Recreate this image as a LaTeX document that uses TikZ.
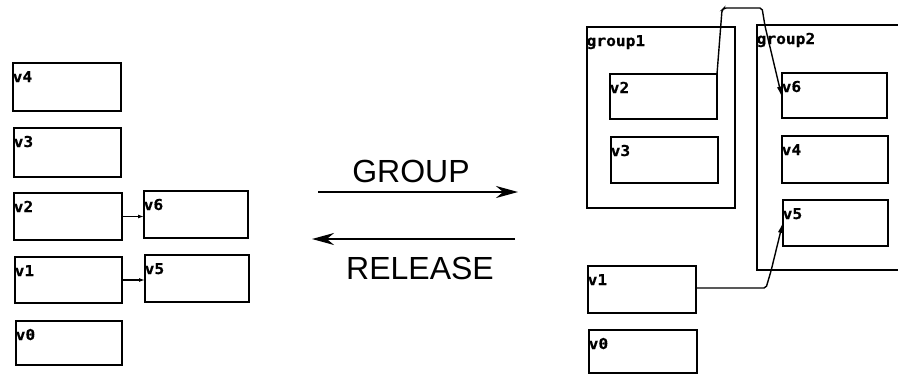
\documentclass[tikz,border=0pt]{standalone}
\usepackage{fontspec}
\setmainfont{Liberation Sans}
\newfontfamily\boxfont[FakeStretch=1.08,FakeBold=0.6]{DejaVu Sans Mono Bold}
\usetikzlibrary{arrows.meta}

% a named rectangle given by its corners, with its name printed top left
\newcommand\boxat[6]{%
  \node[box, anchor=north west, minimum width={(#5-#3)*1pt}, minimum height={(#6-#4)*1pt}] (#1) at (#3,#4) {};
  \node[lbl, anchor=base west] at ([xshift=-0.5pt,yshift=-19pt]#1.north west) {#2};
}

\tikzset{
  box/.style={draw, line width=1.6pt, inner sep=0pt, outer sep=0pt},
  lbl/.style={inner sep=0pt, font=\boxfont\fontsize{15}{16}\selectfont},
  link/.style={line width=1.2pt, -{Latex[length=6pt,width=4pt]}},
  longlink/.style={line width=1.4pt, rounded corners=2pt, -{Latex[length=11pt,width=5pt]}},
  op/.style={line width=2pt, -{Stealth[length=22pt,width=12pt]}},
  optext/.style={inner sep=0pt, font=\fontsize{32}{36}\selectfont},
}

\begin{document}
\begin{tikzpicture}[x=1pt,y=-1pt]
\useasboundingbox (0,0) rectangle (898,375);
\clip (0,0) rectangle (898,375);

% ungrouped graph
\boxat{lv4}{v4}{13}{63}{121}{111}
\boxat{lv3}{v3}{14}{128}{121}{177}
\boxat{lv2}{v2}{14}{193}{122}{240}
\boxat{lv1}{v1}{15}{257}{122}{303}
\boxat{lv0}{v0}{16}{321}{122}{365}
\boxat{lv6}{v6}{144}{191}{248}{238}
\boxat{lv5}{v5}{145}{255}{249}{302}

\draw[link] (lv2.east) -- (lv2.east -| lv6.west);
\draw[link] (lv1.east) -- (lv1.east -| lv5.west);

% operations between the two views
\coordinate (gs) at (318,192);
\coordinate (ge) at (518,192);
\coordinate (rs) at (515,239);
\coordinate (re) at (312,239);
\draw[op] (gs) -- (ge);
\draw[op] (rs) -- (re);
\node[optext, anchor=base] (gl) at (411,182) {GROUP};
\node[optext, anchor=base] (rl) at (420,279) {RELEASE};

% grouped graph
\boxat{g1}{group1}{587}{27}{735}{208}
\boxat{g2}{group2}{757}{25}{912}{270}
\boxat{rv2}{v2}{610}{74}{717}{119}
\boxat{rv3}{v3}{611}{137}{718}{183}
\boxat{rv6}{v6}{782}{73}{887}{118}
\boxat{rv4}{v4}{782}{136}{888}{183}
\boxat{rv5}{v5}{783}{200}{888}{246}
\boxat{rv1}{v1}{588}{266}{696}{313}
\boxat{rv0}{v0}{589}{330}{697}{373}

\coordinate (a1) at (722,10);
\coordinate (a2) at (724,8);
\coordinate (a3) at (762,8);
\coordinate (a4) at (765,26);
\draw[longlink] (rv2.north east) -- (a1) -- (a2) -- (a3) -- (a4) -- ([yshift=-2pt]rv6.west);

\coordinate (b1) at (766,288);
\coordinate (b2) at (771,271);
\draw[longlink] (rv1.east |- b1) -- (b1) -- (b2) -- ([yshift=1pt]rv5.west);
\end{tikzpicture}
\end{document}
